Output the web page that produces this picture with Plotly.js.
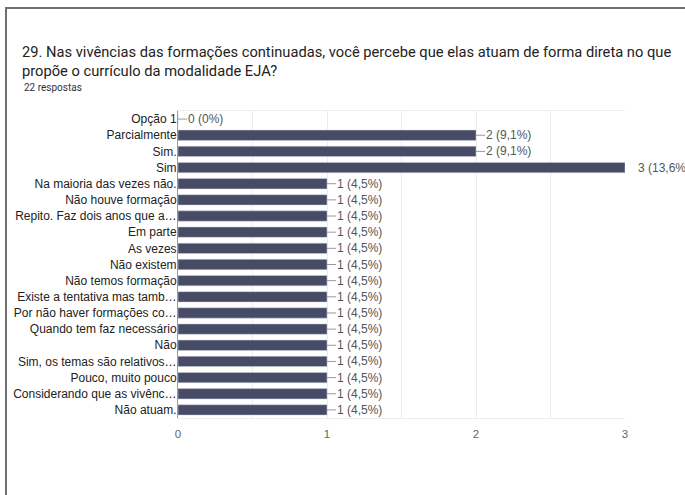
<!DOCTYPE html>
<html>
<head>
<meta charset="utf-8">
<script src="https://cdn.plot.ly/plotly-3.0.1.min.js"></script>
<style>
  html, body { margin: 0; padding: 0; background: #fff; }
  #chart { position: absolute; left: 0; top: 0; width: 685px; height: 495px; }
  #frame { position: absolute; left: 5px; top: 7px; width: 690px; height: 500px;
           border-left: 2px solid #6f6f6f; border-top: 2px solid #6f6f6f; pointer-events: none; }
</style>
</head>
<body>
<div id="chart"></div>
<div id="frame"></div>
<script>
const categories = [
  "Opção 1", "Parcialmente", "Sim.", "Sim", "Na maioria das vezes não.",
  "Não houve formação", "Repito. Faz dois anos que a…", "Em parte", "As vezes",
  "Não existem", "Não temos formação", "Existe a tentativa mas tamb…",
  "Por não haver formações co…", "Quando tem faz necessário", "Não",
  "Sim, os temas são relativos…", "Pouco, muito pouco",
  "Considerando que as vivênc…", "Não atuam."
];
const counts = [0, 2, 2, 3, 1, 1, 1, 1, 1, 1, 1, 1, 1, 1, 1, 1, 1, 1, 1];
const xTicks = [0, 1, 2, 3];
const totalResponses = 22;
const questionText = "29. Nas vivências das formações continuadas, você percebe que elas atuam de forma direta no que<br>propõe o currículo da modalidade EJA?";
const subtitleText = "22 respostas";

function pct(v) {
  const p = v / totalResponses * 100;
  if (v === 0) return "0%";
  return p.toFixed(1).replace(".", ",") + "%";
}
const maxVal = Math.max(...counts);
const labelFont = { family: "Liberation Sans, Arial, sans-serif", size: 12, color: "#555" };

const annotations = categories.map((c, i) => {
  const label = counts[i] + " (" + pct(counts[i]) + ")";
  if (counts[i] === maxVal) {
    return { x: counts[i], y: c, xref: "x", yref: "y", text: label, showarrow: false,
             xanchor: "left", xshift: 11, font: labelFont };
  }
  return { x: counts[i], y: c, xref: "x", yref: "y", text: label, showarrow: true,
           arrowhead: 0, arrowwidth: 1, arrowcolor: "#9a9a9a", ax: 9, ay: 0, standoff: 0,
           xanchor: "left", borderpad: 0, font: labelFont };
});
annotations.push({
  xref: "paper", yref: "paper", x: -178/447 + 22/447, y: 1 + (111 - 88) / 307,
  xanchor: "left", yanchor: "middle", showarrow: false, text: subtitleText,
  font: { family: "Roboto, sans-serif", size: 10, color: "#333" }
});

const data = [{
  type: "bar", orientation: "h",
  x: counts, y: categories,
  marker: { color: "#474b66", line: { color: "#d0d2dc", width: 0.5 } },
  hoverinfo: "x+y"
}];

const layout = {
  width: 685, height: 495,
  margin: { l: 178, r: 60, t: 111, b: 77 },
  paper_bgcolor: "#fff", plot_bgcolor: "#fff",
  bargap: 0.36,
  showlegend: false,
  title: {
    text: questionText,
    x: 22 / 685, xanchor: "left", xref: "container",
    y: 1 - 57 / 495, yanchor: "top", yref: "container",
    font: { family: "Roboto, sans-serif", size: 14.7, color: "#222" }
  },
  xaxis: {
    range: [0, 3], tickvals: xTicks, ticktext: xTicks.map(String),
    showgrid: true, gridcolor: "#ececec", gridwidth: 1,
    minor: { dtick: 0.5, showgrid: true, gridcolor: "#ececec", gridwidth: 1 },
    showline: true, mirror: true, linecolor: "#ececec", linewidth: 1,
    zeroline: false, ticks: "", ticklabelstandoff: 5,
    tickfont: { family: "Liberation Sans, Arial, sans-serif", size: 11.5, color: "#666" },
    fixedrange: true
  },
  yaxis: {
    type: "category", autorange: "reversed",
    showline: true, linecolor: "#999", linewidth: 1,
    showgrid: false, zeroline: false, ticks: "", ticklabelstandoff: -2,
    tickfont: { family: "Liberation Sans, Arial, sans-serif", size: 12, color: "#222" },
    automargin: false, fixedrange: true
  },
  annotations: annotations
};

Plotly.newPlot("chart", data, layout, { displayModeBar: false, staticPlot: true });
</script>
</body>
</html>
